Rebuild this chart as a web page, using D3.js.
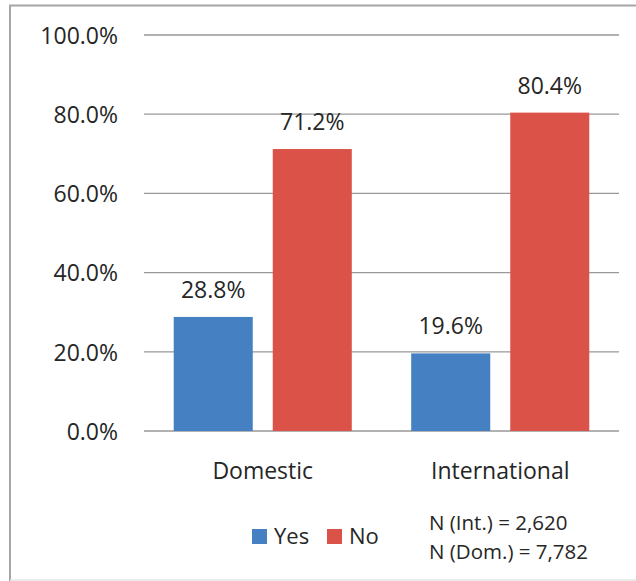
<!DOCTYPE html>
<html><head><meta charset="utf-8">
<script src="https://cdn.jsdelivr.net/npm/d3@7"></script>
<style>body{margin:0;background:#fff}svg{display:block}text{font-family:"Open Sans",sans-serif;fill:#262626}</style>
</head><body><svg id="c" width="636" height="581"></svg>
<script>
const categories = ["Domestic", "International"];
const series = ["Yes", "No"];
const yesValues = [28.8, 19.6];
const noValues = [71.2, 80.4];
const yTicks = [0, 20, 40, 60, 80, 100];
const colors = ["#4580c2", "#db5249"];
const notes = ["N (Int.) = 2,620", "N (Dom.) = 7,782"];

const svg = d3.select("#c");
svg.append("path").attr("d","M10,640 V5.5 H640").attr("fill","none").attr("stroke","#a6a6a6").attr("stroke-width",2);
svg.append("line").attr("x1",10).attr("x2",636).attr("y1",580).attr("y2",580).attr("stroke","#e4e4e4").attr("stroke-width",1.5);

const x0 = d3.scaleBand().domain(categories).range([144, 619]);
const x1 = d3.scaleBand().domain(series).range([0, x0.bandwidth()]).paddingInner(0.202).paddingOuter(0.3);
const y = d3.scaleLinear().domain([0, 100]).range([431, 35]);

const g = svg.append("g");
g.selectAll("line.grid").data(yTicks).join("line").attr("class","grid")
  .attr("x1",144).attr("x2",619).attr("y1",d=>y(d)).attr("y2",d=>y(d))
  .attr("stroke","#999").attr("stroke-width",1.3);

const yAxis = d3.axisLeft(y).tickValues(yTicks).tickFormat(d=>d.toFixed(1)+"%").tickSize(0).tickPadding(26);
const ya = svg.append("g").attr("transform","translate(144,0)").call(yAxis);
ya.select(".domain").remove();
ya.selectAll("text").attr("font-size",23).attr("font-family","Open Sans").attr("fill","#262626").attr("dy","0.36em");

const rows = categories.map((c,i)=>({cat:c, vals:[yesValues[i], noValues[i]]}));
const grp = svg.selectAll("g.cat").data(rows).join("g").attr("class","cat").attr("transform",d=>`translate(${x0(d.cat)},0)`);
grp.selectAll("rect").data(d=>d.vals.map((v,j)=>({s:series[j],v,j}))).join("rect")
  .attr("x",d=>x1(d.s)).attr("width",x1.bandwidth()).attr("y",d=>y(d.v)).attr("height",d=>y(0)-y(d.v))
  .attr("fill",d=>colors[d.j]);
grp.selectAll("text.val").data(d=>d.vals.map((v,j)=>({s:series[j],v,j}))).join("text").attr("class","val")
  .attr("x",d=>x1(d.s)+x1.bandwidth()/2).attr("y",d=>y(d.v)-19).attr("text-anchor","middle")
  .attr("font-size",23).text(d=>d.v.toFixed(1)+"%");

const xAxis = d3.axisBottom(x0).tickSize(0).tickPadding(32);
const xa = svg.append("g").attr("transform","translate(0,431)").call(xAxis);
xa.select(".domain").remove();
xa.selectAll("text").attr("font-size",23).attr("font-family","Open Sans").attr("fill","#262626");

const leg = svg.append("g");
const legX = [252, 327];
series.forEach((s,i)=>{
  leg.append("rect").attr("x",legX[i]).attr("y",529).attr("width",15).attr("height",15).attr("fill",colors[i]);
  leg.append("text").attr("x",legX[i]+22).attr("y",544).attr("font-size",22).text(s);
});
notes.forEach((t,i)=>{
  svg.append("text").attr("x",429).attr("y",530+i*29).attr("font-size",20.5).text(t);
});
</script></body></html>
